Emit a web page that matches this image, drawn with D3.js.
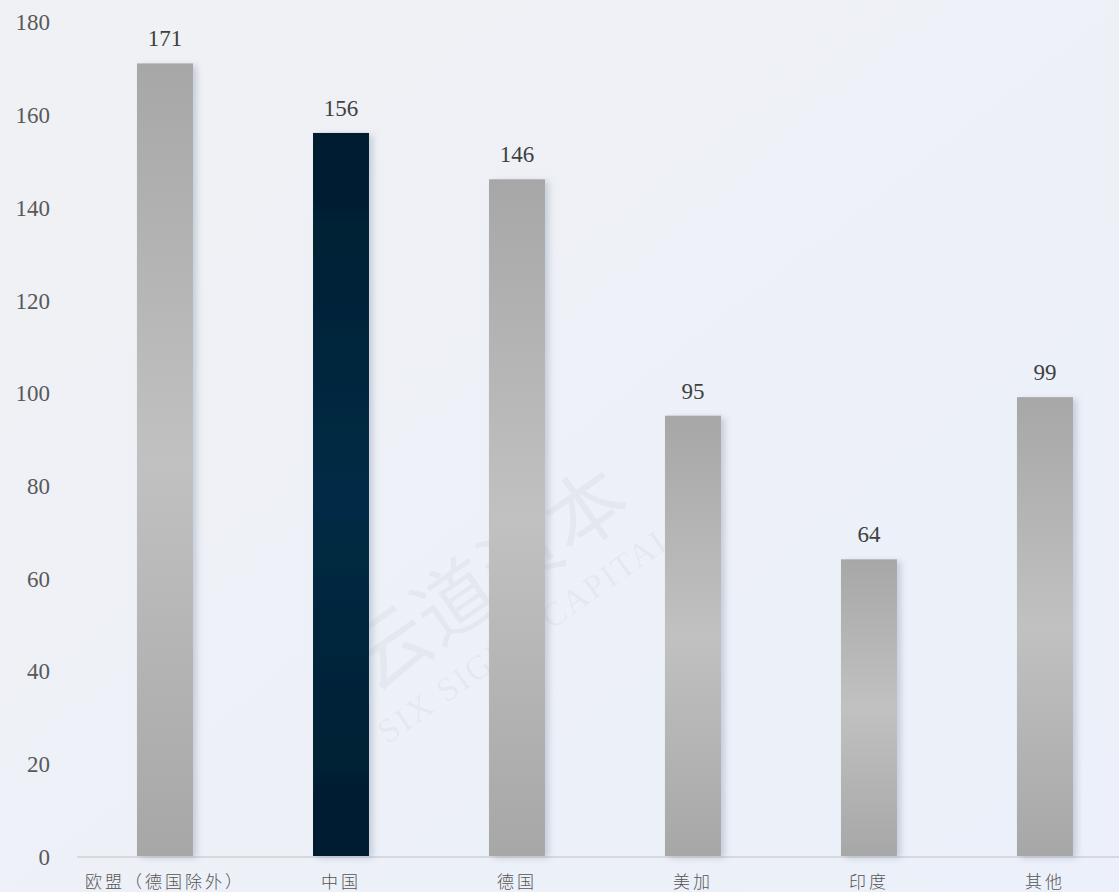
<!DOCTYPE html>
<html>
<head>
<meta charset="utf-8">
<script src="https://cdn.jsdelivr.net/npm/d3@7"></script>
<style>
  html, body { margin: 0; padding: 0; overflow: hidden; }
  svg { display: block; }
</style>
</head>
<body>
<div class="chart"></div>
<script>
var width = 1119, height = 892;

// data
var categories = ["欧盟（德国除外）", "中国", "德国", "美加", "印度", "其他"];
var values = [171, 156, 146, 95, 64, 99];
var highlight = "中国";
var yTicks = [0, 20, 40, 60, 80, 100, 120, 140, 160, 180];

var svg = d3.select(".chart")
    .append("svg")
    .attr("width", width)
    .attr("height", height);

var defs = svg.append("defs");

var bg = defs.append("linearGradient").attr("id", "bg")
    .attr("x1", "0").attr("y1", "0").attr("x2", "1").attr("y2", "1");
bg.append("stop").attr("offset", "0%").attr("stop-color", "#f0f1f4");
bg.append("stop").attr("offset", "100%").attr("stop-color", "#ebf0fa");

function barGrad(id, edge, mid) {
  var g = defs.append("linearGradient").attr("id", id)
      .attr("x1", "0").attr("y1", "0").attr("x2", "0").attr("y2", "1");
  g.append("stop").attr("offset", "0%").attr("stop-color", edge);
  g.append("stop").attr("offset", "50%").attr("stop-color", mid);
  g.append("stop").attr("offset", "100%").attr("stop-color", edge);
}
barGrad("gray", "#a7a7a7", "#c1c1c1");
barGrad("navy", "#001c2f", "#022c45");

var shadow = defs.append("filter").attr("id", "shadow")
    .attr("x", "-20%").attr("y", "-5%").attr("width", "150%").attr("height", "115%");
shadow.append("feDropShadow")
    .attr("dx", 4).attr("dy", 2).attr("stdDeviation", 3)
    .attr("flood-color", "#7d8aa0").attr("flood-opacity", 0.35);

svg.append("rect").attr("width", width).attr("height", height).attr("fill", "url(#bg)");

// faint watermark (kept inside the frame)
var marks = [[510, 610]];
var wm = svg.append("g").attr("opacity", 0.03).attr("fill", "#000");
marks.forEach(function(m) {
  var g = wm.append("g").attr("transform", "translate(" + m + ") rotate(-35)");
  g.append("text").attr("text-anchor", "middle").attr("y", -10)
      .style("font-family", "Noto Sans CJK SC").style("font-size", "80px")
      .text("云道资本");
  g.append("text").attr("text-anchor", "middle").attr("y", 40)
      .style("font-family", "Liberation Serif").style("font-size", "34px")
      .style("letter-spacing", "2px")
      .text("SIX SIGMA CAPITAL");
});

var x = d3.scaleBand()
    .domain(categories)
    .range([77, 1133])
    .paddingInner(0.682)
    .paddingOuter(0.341);

var y = d3.scaleLinear()
    .domain([0, 180])
    .range([856, 21.7]);

// y axis labels
var yAxis = d3.axisLeft(y).tickValues(yTicks).tickSize(0).tickPadding(0);
var yg = svg.append("g").attr("transform", "translate(50,0)").call(yAxis);
yg.select(".domain").remove();
yg.selectAll("text")
    .attr("fill", "#595959")
    .attr("dy", "0.36em")
    .style("font-family", "Liberation Serif")
    .style("font-size", "23px");

// baseline
svg.append("line")
    .attr("x1", 77).attr("x2", width)
    .attr("y1", y(0) + 1).attr("y2", y(0) + 1)
    .attr("stroke", "#d6d8dc").attr("stroke-width", 2);

var data = categories.map(function(c, i) { return { name: c, value: values[i] }; });

svg.append("g").selectAll("rect")
    .data(data)
    .enter().append("rect")
    .attr("x", function(d) { return x(d.name); })
    .attr("y", function(d) { return y(d.value); })
    .attr("width", x.bandwidth())
    .attr("height", function(d) { return y(0) - y(d.value); })
    .attr("fill", function(d) { return d.name == highlight ? "url(#navy)" : "url(#gray)"; })
    .attr("filter", "url(#shadow)");

svg.append("g").selectAll("text")
    .data(data)
    .enter().append("text")
    .attr("x", function(d) { return x(d.name) + x.bandwidth() / 2; })
    .attr("y", function(d) { return y(d.value) - 17; })
    .attr("text-anchor", "middle")
    .attr("fill", "#404040")
    .style("font-family", "Liberation Serif")
    .style("font-size", "23px")
    .text(function(d) { return d.value; });

// x axis labels
var xAxis = d3.axisBottom(x).tickSize(0).tickPadding(0);
var xg = svg.append("g").attr("transform", "translate(0,876)").call(xAxis);
xg.select(".domain").remove();
xg.selectAll("text")
    .attr("fill", "#555")
    .attr("dy", "0.71em")
    .style("font-family", "Noto Sans CJK SC")
    .style("font-weight", "300")
    .style("letter-spacing", "3px")
    .style("font-size", "17px");
</script>
</body>
</html>
